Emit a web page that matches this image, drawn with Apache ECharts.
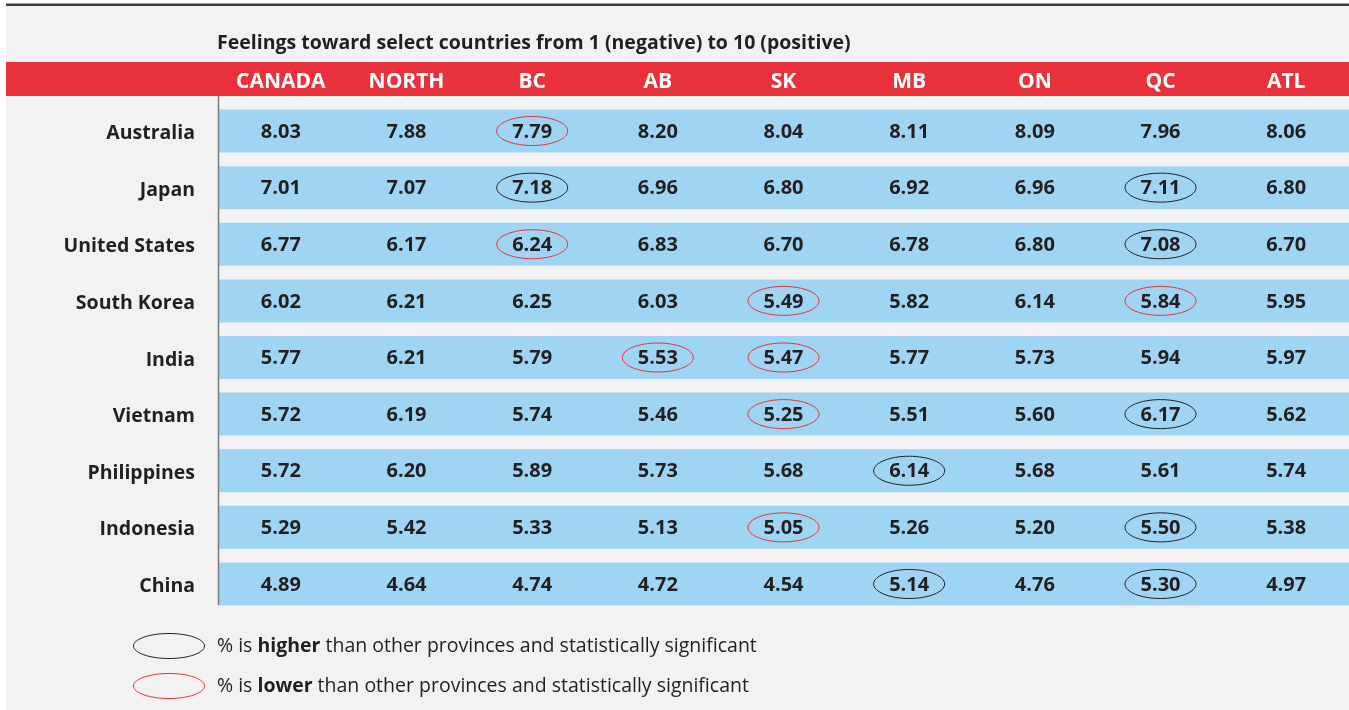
<!DOCTYPE html>
<html>
<head>
<meta charset="utf-8">
<script src="https://cdn.jsdelivr.net/npm/echarts@6/dist/echarts.min.js"></script>
<style>
    html, body {margin: 0; padding: 0; background: #fff;}
    #main {width: 1349px; height: 710px;}
</style>
</head>
<body>
<div id="main"></div>
<script>
// 表头与行名
var regions = ['CANADA', 'NORTH', 'BC', 'AB', 'SK', 'MB', 'ON', 'QC', 'ATL'];
var countries = ['Australia', 'Japan', 'United States', 'South Korea', 'India', 'Vietnam', 'Philippines', 'Indonesia', 'China'];

// 每行的分值
var australia = [8.03, 7.88, 7.79, 8.20, 8.04, 8.11, 8.09, 7.96, 8.06];
var japan = [7.01, 7.07, 7.18, 6.96, 6.80, 6.92, 6.96, 7.11, 6.80];
var unitedStates = [6.77, 6.17, 6.24, 6.83, 6.70, 6.78, 6.80, 7.08, 6.70];
var southKorea = [6.02, 6.21, 6.25, 6.03, 5.49, 5.82, 6.14, 5.84, 5.95];
var india = [5.77, 6.21, 5.79, 5.53, 5.47, 5.77, 5.73, 5.94, 5.97];
var vietnam = [5.72, 6.19, 5.74, 5.46, 5.25, 5.51, 5.60, 6.17, 5.62];
var philippines = [5.72, 6.20, 5.89, 5.73, 5.68, 6.14, 5.68, 5.61, 5.74];
var indonesia = [5.29, 5.42, 5.33, 5.13, 5.05, 5.26, 5.20, 5.50, 5.38];
var china = [4.89, 4.64, 4.74, 4.72, 4.54, 5.14, 4.76, 5.30, 4.97];
var scores = [australia, japan, unitedStates, southKorea, india, vietnam, philippines, indonesia, china];

// 显著性标记: H = 高于其他省份, L = 低于其他省份
var flags = [
    ['', '', 'L', '', '', '', '', '', ''],
    ['', '', 'H', '', '', '', '', 'H', ''],
    ['', '', 'L', '', '', '', '', 'H', ''],
    ['', '', '', '', 'L', '', '', 'L', ''],
    ['', '', '', 'L', 'L', '', '', '', ''],
    ['', '', '', '', 'L', '', '', 'H', ''],
    ['', '', '', '', '', 'H', '', '', ''],
    ['', '', '', '', 'L', '', '', 'H', ''],
    ['', '', '', '', '', 'H', '', 'H', '']
];

var FONT = '"Open Sans", "Noto Sans", sans-serif';
var RED = '#e8313a';
var DARK = '#231f20';
var BLUE = '#9fd5f2';

var cells = [];
for (var r = 0; r < countries.length; r++) {
    for (var c = 0; c < regions.length; c++) {
        cells.push([c, r, scores[r][c], flags[r][c]]);
    }
}
var bands = countries.map(function (name, i) { return [0, i]; });

var myChart = echarts.init(document.getElementById('main'));

option = {
    backgroundColor: '#fff',
    animation: false,
    grid: {
        left: 218,
        width: 1135,
        top: 102.7,
        height: 509.6
    },
    xAxis: {
        type: 'category',
        position: 'top',
        data: regions,
        axisLine: {show: false},
        axisTick: {show: false},
        axisLabel: {
            color: '#fff',
            fontFamily: FONT,
            fontWeight: 'bold',
            fontSize: 21,
            margin: 21,
            verticalAlign: 'middle'
        }
    },
    yAxis: {
        type: 'category',
        inverse: true,
        data: countries,
        axisLine: {show: false},
        axisTick: {show: false},
        axisLabel: {
            margin: 23,
            formatter: function (v) { return '{a|' + v + '}'; },
            rich: {
                a: {
                    color: DARK,
                    fontFamily: FONT,
                    fontWeight: 'bold',
                    fontSize: 19.5,
                    padding: [5, 0, 0, 0]
                }
            }
        }
    },
    graphic: [
        {type: 'rect', z: -10, shape: {x: 6, y: 4, width: 1343, height: 706}, style: {fill: '#f2f2f2'}},
        {type: 'rect', z: -5, shape: {x: 6, y: 3.5, width: 1343, height: 2.5}, style: {fill: '#3d3d3d'}},
        {type: 'rect', z: -5, shape: {x: 6, y: 62, width: 1343, height: 34}, style: {fill: RED}},
        {type: 'line', z: 5, shape: {x1: 218.5, y1: 96, x2: 218.5, y2: 605}, style: {stroke: '#7a7a7a', lineWidth: 1.5}},
        {
            type: 'text', left: 217, top: 33,
            style: {text: 'Feelings toward select countries from 1 (negative) to 10 (positive)', fill: DARK, font: 'bold 19.5px ' + FONT}
        },
        {type: 'ellipse', shape: {cx: 169, cy: 646, rx: 35.5, ry: 12.5}, style: {fill: 'none', stroke: DARK, lineWidth: 1}},
        {type: 'ellipse', shape: {cx: 169, cy: 686, rx: 35.5, ry: 12.5}, style: {fill: 'none', stroke: RED, lineWidth: 1}},
        {
            type: 'text', left: 217, top: 636,
            style: {
                text: '% is {b|higher} than other provinces and statistically significant',
                fill: DARK, font: '19.5px ' + FONT,
                rich: {b: {fontWeight: 'bold', fontSize: 19.5, fontFamily: FONT, fill: DARK}}
            }
        },
        {
            type: 'text', left: 217, top: 676,
            style: {
                text: '% is {b|lower} than other provinces and statistically significant',
                fill: DARK, font: '19.5px ' + FONT,
                rich: {b: {fontWeight: 'bold', fontSize: 19.5, fontFamily: FONT, fill: DARK}}
            }
        }
    ],
    series: [
        {
            // 浅蓝色行底
            type: 'custom',
            data: bands,
            z: 1,
            renderItem: function (params, api) {
                var p = api.coord([api.value(0), api.value(1)]);
                var cs = params.coordSys;
                return {
                    type: 'rect',
                    shape: {x: cs.x + 1, y: p[1] - 21.5, width: cs.width, height: 43},
                    style: {fill: BLUE}
                };
            }
        },
        {
            type: 'custom',
            data: cells,
            z: 3,
            renderItem: function (params, api) {
                var p = api.coord([api.value(0), api.value(1)]);
                var flag = cells[params.dataIndex][3];
                var children = [{
                    type: 'text',
                    x: p[0], y: p[1] + 1,
                    style: {
                        text: api.value(2).toFixed(2),
                        fill: DARK,
                        font: 'bold 20px ' + FONT,
                        align: 'center',
                        verticalAlign: 'middle'
                    }
                }];
                if (flag) {
                    children.push({
                        type: 'ellipse',
                        shape: {cx: p[0], cy: p[1], rx: 35.5, ry: 14.5},
                        style: {fill: 'none', stroke: flag === 'H' ? DARK : RED, lineWidth: 1}
                    });
                }
                return {type: 'group', children: children};
            }
        }
    ]
};

myChart.setOption(option);
</script>
</body>
</html>
